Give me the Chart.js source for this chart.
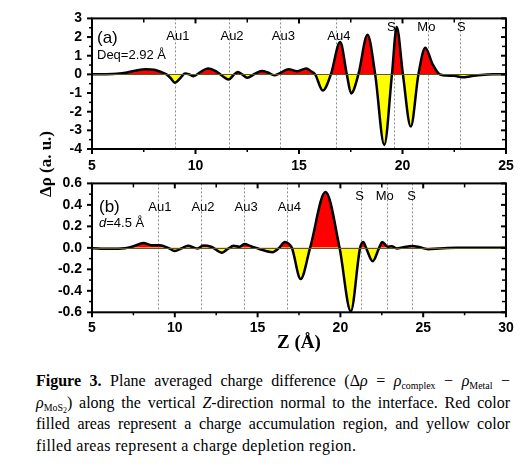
<!DOCTYPE html>
<html><head><meta charset="utf-8">
<script src="https://cdn.jsdelivr.net/npm/chart.js@4.4.0/dist/chart.umd.min.js"></script>
<style>
html,body{margin:0;padding:0;background:#fff;}
body{width:524px;height:464px;position:relative;overflow:hidden;}
#ca{position:absolute;left:0;top:0;}
#cb{position:absolute;left:0;top:165px;}
#ytitle{position:absolute;left:46px;top:164px;transform:translate(-50%,-50%) rotate(-90deg);font:bold 17px "Liberation Serif",serif;white-space:nowrap;color:#000;}
#cap{position:absolute;left:36px;top:370px;width:474px;font:16px/21.7px "Liberation Serif",serif;color:#000;}
#cap div{white-space:nowrap;}
#cap .j{text-align:justify;text-align-last:justify;white-space:normal;}
#cap .l{letter-spacing:0.35px;}
#cap sub{font-size:0.62em;line-height:0;vertical-align:-0.3em;}
#cap sub sub{font-size:0.8em;vertical-align:-0.25em;}
</style></head>
<body>
<canvas id="ca" width="524" height="175"></canvas>
<canvas id="cb" width="524" height="190"></canvas>
<div id="ytitle">Δρ (a. u.)</div>
<div id="cap">
<div class="j"><b>Figure 3.</b> Plane averaged charge difference (Δ<i>ρ</i> = <i>ρ</i><sub>complex</sub> − <i>ρ</i><sub>Metal</sub> −</div>
<div class="j"><i>ρ</i><sub>MoS<sub>2</sub></sub>) along the vertical <i>Z</i>-direction normal to the interface. Red color</div>
<div class="j">filled areas represent a charge accumulation region, and yellow color</div>
<div class="l">filled areas represent a charge depletion region.</div>
</div>
<script>
// ---- Data: panel (a) Deq = 2.92 Å ----
const zA = [5, 5.6, 6.2, 6.7, 7.1, 7.6, 8.0, 8.35, 8.6, 8.8, 9.0, 9.25, 9.5, 9.7, 9.9, 10.2, 10.6, 11.0, 11.25, 11.6, 11.85, 12.05, 12.25, 12.5, 12.85, 13.2, 13.5, 13.8, 14.1, 14.5, 14.9, 15.35, 15.6, 15.78, 16.15, 16.54, 16.99, 17.31, 17.52, 17.87, 18.31, 18.68, 19.12, 19.49, 19.72, 20.02, 20.4, 20.77, 21.1, 21.45, 21.8, 22.1, 22.5, 22.9, 23.3, 23.8, 24.4, 25];
const rhoA = [0, 0.005, 0.03, 0.1, 0.2, 0.28, 0.25, 0.12, 0, -0.2, -0.45, -0.22, 0.05, 0.0, -0.1, 0.1, 0.32, 0.16, -0.05, -0.28, -0.02, 0.13, 0.0, -0.18, 0.02, 0.18, 0.1, -0.05, 0.08, 0.28, 0.17, 0.32, 0.15, 0, -0.87, 0, 1.73, 0, -1.02, 0, 2.12, 0, -3.78, 0, 2.54, 0, -2.8, 0, 1.43, 0.55, 0.0, -0.06, -0.08, -0.16, -0.1, -0.03, 0, 0];
const atomNamesA = ['Au1', 'Au2', 'Au3', 'Au4', 'S', 'Mo', 'S'];
const atomZA = [9.0, 11.62, 14.1, 16.78, 19.6, 21.25, 22.8];
const xTicksA = [5, 10, 15, 20, 25];
const yTicksA = [-4, -3, -2, -1, 0, 1, 2, 3];

// ---- Data: panel (b) d = 4.5 Å ----
const zB = [5, 6, 7, 7.5, 8.1, 8.6, 9.1, 9.6, 10.0, 10.4, 10.8, 11.2, 11.4, 11.7, 12.2, 12.85, 13.2, 13.55, 13.9, 14.2, 14.6, 15.1, 15.9, 16.3, 16.65, 16.85, 17.07, 17.6, 18.17, 19.1, 19.95, 20.63, 21.19, 21.38, 21.55, 21.95, 22.34, 22.53, 22.85, 23.1, 23.4, 23.8, 24.35, 24.8, 25.3, 26, 27, 30];
const rhoB = [-0.003, -0.008, -0.003, 0.015, 0.045, 0.025, 0.025, 0.0, -0.03, -0.005, 0.02, 0.0, -0.005, 0.022, 0.01, -0.045, -0.01, 0.02, 0.01, 0.035, 0.015, -0.01, -0.04, 0.0, 0.055, 0.04, 0.0, -0.29, 0.0, 0.52, 0.0, -0.59, 0.0, 0.055, 0.0, -0.125, 0.0, 0.055, 0.01, 0.015, -0.005, 0.005, 0.018, 0.005, -0.012, -0.006, 0.0, 0.0];
const atomNamesB = ['Au1', 'Au2', 'Au3', 'Au4', 'S', 'Mo', 'S'];
const atomZB = [8.98, 11.58, 14.19, 16.8, 21.22, 22.8, 24.3];
const xTicksB = [5, 10, 15, 20, 25, 30];
const yTicksB = [-0.6, -0.4, -0.2, 0.0, 0.2, 0.4, 0.6];

const SANS = '"Liberation Sans", Arial, sans-serif';
const SERIF = '"Liberation Serif", "Times New Roman", serif';

function minors(vals) {
  const m = [];
  for (let i = 0; i < vals.length - 1; i++) m.push((vals[i] + vals[i + 1]) / 2);
  return m;
}

const panelPlugin = {
  id: 'panel',
  beforeDatasetsDraw(chart, args, o) {
    const {ctx, chartArea: a, scales: {x}} = chart;
    ctx.save();
    ctx.strokeStyle = '#8c8c8c';
    ctx.lineWidth = 1;
    ctx.setLineDash([2, 2]);
    o.atomZ.forEach(v => {
      const px = Math.round(x.getPixelForValue(v)) + 0.5;
      ctx.beginPath(); ctx.moveTo(px, a.top); ctx.lineTo(px, a.bottom); ctx.stroke();
    });
    ctx.restore();
  },
  afterDatasetsDraw(chart, args, o) {
    const {ctx, chartArea: a, scales: {y}} = chart;
    ctx.save();
    ctx.strokeStyle = '#5a5a20';
    ctx.lineWidth = 1;
    const py = Math.round(y.getPixelForValue(0)) + 0.5;
    ctx.beginPath(); ctx.moveTo(a.left, py); ctx.lineTo(a.right, py); ctx.stroke();
    ctx.restore();
  },
  afterDraw(chart, args, o) {
    const {ctx, chartArea: a, scales: {x, y}} = chart;
    ctx.save();
    ctx.strokeStyle = '#000';
    ctx.lineWidth = 2;
    ctx.strokeRect(a.left, a.top, a.right - a.left, a.bottom - a.top);
    const xt = x.ticks.map(t => t.value), yt = y.ticks.map(t => t.value);
    const tick = (x1, y1, x2, y2, w) => { ctx.lineWidth = w; ctx.beginPath(); ctx.moveTo(x1, y1); ctx.lineTo(x2, y2); ctx.stroke(); };
    xt.forEach(v => { const p = x.getPixelForValue(v); tick(p, a.bottom, p, a.bottom + 5, 2); tick(p, a.top, p, a.top + 5, 2); });
    minors(xt).forEach(v => { const p = x.getPixelForValue(v); tick(p, a.bottom, p, a.bottom + 3, 1.5); tick(p, a.top, p, a.top + 4, 1.5); });
    yt.forEach(v => { const p = y.getPixelForValue(v); tick(a.left - 5, p, a.left, p, 2); tick(a.right, p, a.right - 5, p, 2); });
    minors(yt).forEach(v => { const p = y.getPixelForValue(v); tick(a.left - 3, p, a.left, p, 1.5); tick(a.right, p, a.right - 4, p, 1.5); });
    ctx.fillStyle = '#000';
    ctx.font = '13px ' + SANS;
    ctx.textAlign = 'center';
    ctx.textBaseline = 'middle';
    o.atomNames.forEach((n, i) => {
      ctx.fillText(n, x.getPixelForValue(o.atomZ[i]) + o.labelDx[i], a.top + o.labelDy[i]);
    });
    ctx.textAlign = 'left';
    ctx.font = '17px ' + SANS;
    ctx.fillText(o.letter, a.left + o.letterPos[0], a.top + o.letterPos[1]);
    let lx = a.left + o.distPos[0];
    const ly = a.top + o.distPos[1];
    o.dist.forEach(part => {
      ctx.font = (part.italic ? 'italic ' : '') + '13px ' + SANS;
      ctx.fillText(part.t, lx, ly);
      lx += ctx.measureText(part.t).width;
    });
    ctx.restore();
  }
};

function makeChart(id, zs, rhos, xTicks, yTicks, xmax, ymin, ymax, pad, xAxisH, yFmt, xPad, xTitle, panelOpts) {
  return new Chart(document.getElementById(id), {
    type: 'line',
    data: {
      datasets: [{
        data: zs.map((z, i) => ({x: z, y: rhos[i]})),
        borderColor: '#000',
        borderWidth: 2.5,
        pointRadius: 0,
        cubicInterpolationMode: 'monotone',
        fill: {target: {value: 0}, above: '#ff0000', below: '#ffff00'}
      }]
    },
    options: {
      responsive: false,
      animation: false,
      layout: {padding: pad},
      plugins: {legend: {display: false}, tooltip: {enabled: false}, panel: panelOpts},
      scales: {
        x: {
          type: 'linear', min: 5, max: xmax,
          afterBuildTicks: s => { s.ticks = xTicks.map(v => ({value: v})); },
          afterFit: s => { s.height = xAxisH; },
          grid: {display: false, drawTicks: false},
          border: {display: false},
          ticks: {color: '#000', padding: xPad, font: {family: SANS, size: 14, weight: 'bold'}, maxRotation: 0, autoSkip: false},
          title: xTitle
        },
        y: {
          type: 'linear', min: ymin, max: ymax,
          afterBuildTicks: s => { s.ticks = yTicks.map(v => ({value: v})); },
          afterFit: s => { s.width = 92; },
          grid: {display: false, drawTicks: false},
          border: {display: false},
          ticks: {color: '#000', padding: 10, autoSkip: false, font: {family: SANS, size: 14, weight: 'bold'}, callback: yFmt}
        }
      }
    },
    plugins: [panelPlugin]
  });
}

makeChart('ca', zA, rhoA, xTicksA, yTicksA, 25, -4, 3,
  {left: 0, right: 18, top: 15, bottom: 0}, 26,
  v => String(v), 9,
  {display: false},
  {atomNames: atomNamesA, atomZ: atomZA, labelDx: [3, 3, 3, 3, -3, -2, 1], labelDy: [18, 18, 18, 18, 9, 9, 9],
   letter: '(a)', letterPos: [5, 20], dist: [{t: 'Deq=2.92 Å'}], distPos: [5, 37]});

makeChart('cb', zB, rhoB, xTicksB, yTicksB, 30, -0.6, 0.6,
  {left: 0, right: 18, top: 13.3, bottom: 0}, 42.7,
  v => (Math.abs(v) < 1e-9 ? '0.0' : v.toFixed(1)), 7.3,
  {display: true, text: 'Z (Å)', color: '#000', font: {family: SERIF, size: 19, weight: 'bold'}, padding: {top: 0, bottom: 1}},
  {atomNames: atomNamesB, atomZ: atomZB, labelDx: [2, 2, 2, 2, -1, -2, 0], labelDy: [24.4, 24.4, 24.4, 24.4, 13.4, 13.4, 13.4],
   letter: '(b)', letterPos: [7, 24.4], dist: [{t: 'd', italic: true}, {t: '=4.5 Å'}], distPos: [7, 40]});
</script>
</body></html>
